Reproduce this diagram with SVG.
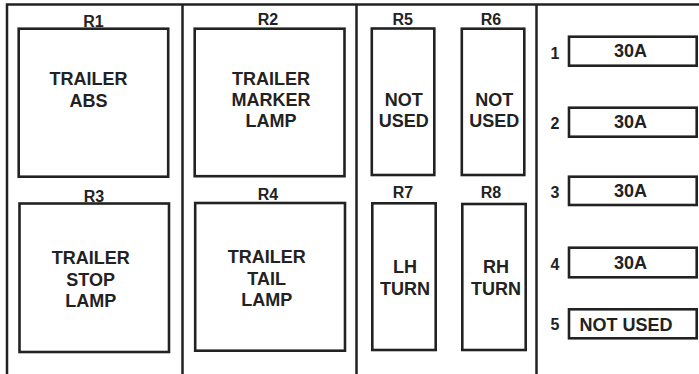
<svg xmlns="http://www.w3.org/2000/svg" width="699" height="374" viewBox="0 0 699 374">
<style>
.ln{fill:none;stroke:#222;stroke-width:2.5}
.bx{fill:#fff;stroke:#222;stroke-width:2.6}
text{font-family:"Liberation Sans",Arial,sans-serif;font-weight:bold;fill:#222;text-anchor:middle}
.lb{font-size:16px}
.tx{font-size:18px}
</style>
<rect width="699" height="374" fill="#fff"/>
<g id="frame">
<path class="ln" d="M7,374V4.5H699M182.5,4.5V374M356.5,4.5V374M536.5,4.5V374"/>
</g>
<g id="R1">
<text class="lb" x="93.5" y="26.5">R1</text>
<rect class="bx" x="18.7" y="28.7" width="149.5" height="148"/>
<text class="tx" x="88.5" y="85">TRAILER</text>
<text class="tx" x="88.5" y="106.5">ABS</text>
</g>
<g id="R2">
<text class="lb" x="268" y="25">R2</text>
<rect class="bx" x="194.7" y="28.7" width="149.8" height="147.5"/>
<text class="tx" x="271" y="85">TRAILER</text>
<text class="tx" x="271" y="106">MARKER</text>
<text class="tx" x="271" y="127.3">LAMP</text>
</g>
<g id="R3">
<text class="lb" x="94" y="201.5">R3</text>
<rect class="bx" x="19.5" y="203.5" width="149.5" height="148.5"/>
<text class="tx" x="90.7" y="264.3">TRAILER</text>
<text class="tx" x="90.7" y="285.5">STOP</text>
<text class="tx" x="90.7" y="306.7">LAMP</text>
</g>
<g id="R4">
<text class="lb" x="268" y="200">R4</text>
<rect class="bx" x="195.2" y="203" width="149.8" height="147.7"/>
<text class="tx" x="266.7" y="263.3">TRAILER</text>
<text class="tx" x="266.7" y="285">TAIL</text>
<text class="tx" x="266.7" y="306">LAMP</text>
</g>
<g id="R5">
<text class="lb" x="402.7" y="25">R5</text>
<rect class="bx" x="371.8" y="28.5" width="62.5" height="146.5"/>
<text class="tx" x="403.8" y="106">NOT</text>
<text class="tx" x="403.8" y="126.7">USED</text>
</g>
<g id="R6">
<text class="lb" x="491" y="25">R6</text>
<rect class="bx" x="461.8" y="28.7" width="62.5" height="146.3"/>
<text class="tx" x="494.2" y="106">NOT</text>
<text class="tx" x="494.2" y="126.7">USED</text>
</g>
<g id="R7">
<text class="lb" x="403" y="198.3">R7</text>
<rect class="bx" x="372.3" y="203.3" width="63.4" height="146.7"/>
<text class="tx" x="405" y="273.3">LH</text>
<text class="tx" x="405" y="295">TURN</text>
</g>
<g id="R8">
<text class="lb" x="491" y="198.3">R8</text>
<rect class="bx" x="462.3" y="204" width="63.4" height="146"/>
<text class="tx" x="496" y="273.3">RH</text>
<text class="tx" x="496" y="295">TURN</text>
</g>
<g id="F1">
<text class="lb" x="555" y="59">1</text>
<rect class="bx" x="569" y="36.7" width="127.7" height="29"/>
<text class="tx" x="630.5" y="57.3">30A</text>
</g>
<g id="F2">
<text class="lb" x="555" y="129.3">2</text>
<rect class="bx" x="569" y="107.7" width="127.7" height="29"/>
<text class="tx" x="630.5" y="128.3">30A</text>
</g>
<g id="F3">
<text class="lb" x="555" y="198.3">3</text>
<rect class="bx" x="569" y="176.7" width="127.7" height="28.3"/>
<text class="tx" x="630.5" y="197.3">30A</text>
</g>
<g id="F4">
<text class="lb" x="555" y="270">4</text>
<rect class="bx" x="569" y="247.7" width="127.7" height="29.6"/>
<text class="tx" x="630.5" y="269.3">30A</text>
</g>
<g id="F5">
<text class="lb" x="555" y="330">5</text>
<rect class="bx" x="569" y="309.3" width="127.7" height="29"/>
<text class="tx" x="626" y="330.7">NOT USED</text>
</g>
</svg>
